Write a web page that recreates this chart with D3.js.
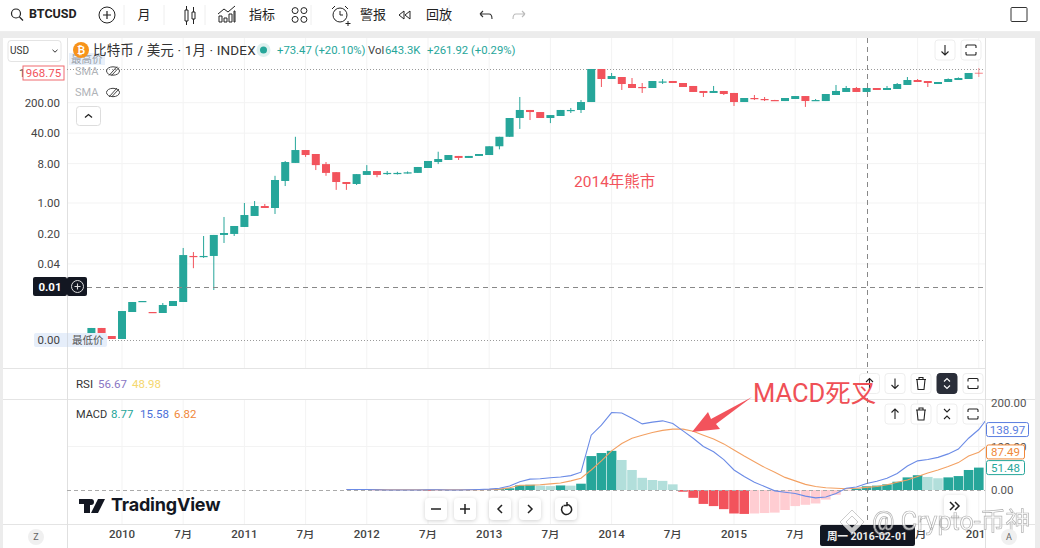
<!DOCTYPE html>
<html>
<head>
<meta charset="utf-8">
<script src="https://cdn.jsdelivr.net/npm/d3@7"></script>
<style>
  html, body { margin: 0; padding: 0; background: #fff; overflow: hidden; }
  text { font-family: Roboto, "Noto Sans CJK SC", sans-serif; }
  .domain { display: none; }
</style>
</head>
<body>
<div id="chart"></div>
<script>
const WIDTH = 1040;
const HEIGHT = 548;

const GREEN = "#26a69a";
const RED = "#f2535c";
const LIGHT_GREEN = "#b2dfdb";
const PINK = "#ffcdd2";
const BLUE = "#6b8be6";
const ORANGE = "#f3a163";

// monthly candles, 2009-10 to 2017-01
const opens = [
  .00104, .00136, .00089, .00076, .00316, .0055, .00316, .003, .00434, .00536,
  .061, .06, .061, .185, .195, .282, .504, .853, .768, 3.2,
  8.3, 16.4, 13.3, 7.8, 5.1, 3.03, 2.73, 4.4, 5.4, 4.8,
  4.8, 4.95, 4.9, 6.35, 8.7, 9.7, 12, 10.8, 12, 12.6,
  20, 33, 89, 136, 122, 89, 99, 132, 136, 207,
  1185, 698, 776, 536, 458, 434, 596, 628, 565, 483,
  371, 334, 371, 334, 207, 256, 243, 230, 218, 243,
  284, 224, 218, 300, 352, 434, 352, 434, 391, 412,
  509, 662, 628, 536, 596, 662, 698, 975];
const closes = [
  .00136, .00104, .00076, .00333, .00536, .00565, .003, .00458, .00565, .064,
  .058, .061, .185, .205, .297, .53, .853, .768, 3.37, 8.7,
  16.4, 12.6, 7.4, 4.9, 3.03, 2.73, 4.6, 5.4, 4.4, 4.9,
  4.9, 5.05, 6.7, 9.2, 10.2, 12.6, 10.8, 12, 13.3, 20,
  33, 89, 136, 122, 89, 104, 136, 136, 207, 1185,
  698, 818, 536, 434, 440, 628, 612, 565, 458, 352,
  334, 371, 316, 207, 256, 243, 232, 222, 256, 284,
  218, 230, 316, 371, 434, 352, 434, 391, 434, 536,
  662, 596, 565, 596, 698, 736, 959, 968.75];
const highs = [
  .00136, .00136, .00089, .00333, .00536, .00565, .00316, .00508, .00565, .093,
  .075, .175, .185, .478, .297, 1, 1.11, .95, 4.2, 9.2,
  33, 16.4, 13.3, 8.7, 5.1, 3.03, 4.6, 7.4, 5.4, 5.4,
  5.2, 5.3, 6.7, 9.2, 15, 12.6, 12, 12, 13.3, 20,
  33, 89, 270, 136, 122, 104, 136, 151, 230, 1185,
  1185, 959, 776, 736, 565, 628, 698, 628, 565, 483,
  371, 483, 371, 334, 256, 300, 270, 232, 256, 284,
  284, 243, 316, 509, 483, 458, 434, 434, 483, 565,
  776, 698, 628, 596, 720, 760, 959, 1250];
const lows = [
  .00104, .00104, .00076, .00076, .00316, .0055, .003, .003, .00434, .00536,
  .032, .055, .0101, .121, .175, .282, .504, .768, .56, 2.45,
  8.3, 11.4, 5.7, 4.2, 2, 2, 2.59, 4.4, 3.9, 4.4,
  4.5, 4.7, 4.9, 6.35, 7.8, 9.7, 9.7, 10.8, 12, 12.6,
  17, 33, 50, 80, 89, 68, 99, 116, 116, 207,
  458, 698, 391, 434, 334, 434, 536, 628, 458, 352,
  270, 334, 300, 168, 207, 230, 218, 222, 218, 243,
  160, 224, 218, 300, 352, 352, 352, 391, 391, 412,
  509, 596, 458, 536, 596, 662, 698, 776];

// MACD pane starts at candle 25 (2011-11); the lines run one month past the pane edge
const macdStart = 25;
const macdLine = [
  1, 1, 1, .5, 0, 0, 0, 0, .5, .5, 0, 0, .5, 1, 2, 4, 9,
  19, 25, 26, 28, 30, 33, 41, 126, 149, 178, 177, 165, 152, 156, 159, 153, 136, 119, 100, 88,
  70, 46, 31, 18, 8, -2, -5, -8, -14, -18, -16, -8, 4, 7, 15, 20, 27, 38, 55, 67, 70, 75, 83, 94, 119, 139, 170];
const signalLine = [
  1, 1, 1, 1, .5, .5, .5, .5, .5, .5, .5, .5, .5, .7, 1, 2, 5,
  11, 11, 12, 14, 16, 21, 27, 46, 67, 90, 107, 119, 126, 132, 137, 140, 140, 135, 126, 117,
  106, 92, 78, 65, 52, 41, 29, 21, 13, 8, 5, 4, 3, 4, 6, 8, 12, 18, 23, 31, 39, 46, 54, 63, 78, 87, 105];
const histogram = [
  0, 0, 0, -.5, -.5, -.5, -.5, -.5, -2, -1, -.5, -.5, 0, .5, 1, 2, 4,
  10.7, 12, 10, 9, 10.5, 10, 14.5, 78, 85, 90, 69, 46, 28, 23, 21, 13, -4, -18, -32, -37,
  -44, -54, -55, -54, -53, -52, -46, -37, -34, -31, -22, -11, -1.5, 3, 8.5, 10, 13, 19, 29, 34, 30, 27, 29, 32, 46, 51.48];

const priceTicks = [200, 40, 8, 1, .2, .04];
const macdTicks = [200, 100, 0];
const macdTags = [138.97, 87.49, 51.48];
const timeTickIdx = d3.range(3, 88, 6);
const timeTickLabels = ["2010", "7月", "2011", "7月", "2012", "7月", "2013", "7月", "2014", "7月", "2015", "7月", "2016", "7月", "2017"];

const svg = d3.select("#chart").append("svg")
    .attr("width", WIDTH)
    .attr("height", HEIGHT)
    .style("display", "block");

svg.append("clipPath").attr("id", "pane")
    .append("rect").attr("x", 0).attr("y", 0).attr("width", 985).attr("height", HEIGHT);

const x = d3.scaleBand().domain(d3.range(89)).range([86.3, 994.1]);
const xMid = i => x(i) + x.bandwidth() / 2;
const y = d3.scaleLog().domain([1000, .001]).range([72.2, 333.8]);
const yMacd = d3.scaleLinear().domain([0, 200]).range([490, 403]);

function label(s, px, py, size, color, anchor, weight) {
    return svg.append("text")
        .attr("x", px).attr("y", py)
        .attr("dy", "0.35em")
        .attr("font-size", size)
        .attr("fill", color)
        .attr("text-anchor", anchor || "start")
        .attr("font-weight", weight || 400)
        .text(s);
}

function hline(py, x1, x2, color, dash) {
    return svg.append("line").attr("x1", x1).attr("x2", x2).attr("y1", py).attr("y2", py)
        .attr("stroke", color).attr("stroke-dasharray", dash || null);
}

function vline(px, y1, y2, color, dash) {
    return svg.append("line").attr("x1", px).attr("x2", px).attr("y1", y1).attr("y2", y2)
        .attr("stroke", color).attr("stroke-dasharray", dash || null);
}

function icon(d, px, py, color, sw) {
    return svg.append("path").attr("d", d)
        .attr("transform", `translate(${px},${py})`)
        .attr("fill", "none")
        .attr("stroke", color || "#333")
        .attr("stroke-width", sw || 1.2);
}

/* FRAME */

svg.append("rect").attr("y", 32).attr("width", WIDTH).attr("height", 6).attr("fill", "#ececec");
svg.append("rect").attr("y", 32).attr("width", 3).attr("height", HEIGHT).attr("fill", "#ececec");
svg.append("rect").attr("x", 1035).attr("y", 32).attr("width", 5).attr("height", HEIGHT).attr("fill", "#ececec");

/* GRID */

timeTickIdx.forEach(i => {
    vline(xMid(i), 38, 368, "#f3f3f3");
    vline(xMid(i), 400, 524, "#f3f3f3");
});
priceTicks.forEach(p => hline(y(p), 67, 985, "#f3f3f3"));
hline(yMacd(100), 67, 985, "#f3f3f3");

hline(368.5, 3, 985, "#e4e4e4");
hline(399.5, 3, 1035, "#e4e4e4");
hline(524.5, 3, 1035, "#e4e4e4");
vline(67.5, 38, 548, "#e0e0e0");
vline(985.5, 38, 548, "#e0e0e0");

/* PRICE PANE */

hline(69.5, 67, 985, "#9a9a9a", "1,2");
hline(340.5, 67, 985, "#9a9a9a", "1,2");

svg.append("g").selectAll("line")
    .data(d3.range(88))
    .join("line")
    .attr("x1", xMid).attr("x2", xMid)
    .attr("y1", i => y(highs[i])).attr("y2", i => y(lows[i]))
    .attr("stroke", i => closes[i] >= opens[i] ? GREEN : RED)
    .attr("stroke-opacity", i => i === 87 ? 0.6 : 1);

svg.append("g").selectAll("rect")
    .data(d3.range(88))
    .join("rect")
    .attr("x", i => xMid(i) - 4)
    .attr("width", 8)
    .attr("y", i => Math.min(y(opens[i]), y(closes[i])))
    .attr("height", i => Math.max(1.2, Math.abs(y(opens[i]) - y(closes[i]))))
    .attr("fill", i => closes[i] >= opens[i] ? GREEN : RED)
    .attr("fill-opacity", i => i === 87 ? 0.6 : 1);

const priceAxis = d3.axisLeft(y)
    .tickValues(priceTicks)
    .tickSize(0)
    .tickPadding(0)
    .tickFormat(d3.format(".2f"));

svg.append("g")
    .attr("transform", "translate(60,0)")
    .call(priceAxis)
    .call(g => g.selectAll("text").attr("font-size", 11.5).attr("fill", "#444"));

/* MACD PANE */

svg.append("g").selectAll("rect")
    .data(histogram)
    .join("rect")
    .attr("x", (d, i) => x(i + macdStart) + 0.3)
    .attr("width", x.bandwidth() - 0.6)
    .attr("y", d => Math.min(yMacd(d), yMacd(0)))
    .attr("height", d => Math.abs(yMacd(d) - yMacd(0)))
    .attr("fill", (d, i) => {
        const rising = i === 0 || d >= histogram[i - 1];
        if (d >= 0) return rising ? GREEN : LIGHT_GREEN;
        return rising ? PINK : RED;
    });

hline(490.5, 67, 985, "#aaa", "4,3");

const macdPath = d3.line()
    .x((d, i) => xMid(i + macdStart))
    .y(d => yMacd(d));

svg.append("path").datum(signalLine).attr("d", macdPath).attr("clip-path", "url(#pane)")
    .attr("fill", "none").attr("stroke", ORANGE).attr("stroke-width", 1.1);
svg.append("path").datum(macdLine).attr("d", macdPath).attr("clip-path", "url(#pane)")
    .attr("fill", "none").attr("stroke", BLUE).attr("stroke-width", 1.1);

const macdAxis = d3.axisRight(yMacd)
    .tickValues(macdTicks)
    .tickSize(0)
    .tickPadding(0)
    .tickFormat(d3.format(".2f"));

svg.append("g")
    .attr("transform", "translate(991,0)")
    .call(macdAxis)
    .call(g => g.selectAll("text").attr("font-size", 11.5).attr("fill", "#555"));

function valueTag(v, width, color) {
    const py = yMacd(v);
    svg.append("rect").attr("x", 986.5).attr("y", py - 7).attr("width", width).attr("height", 14).attr("rx", 2)
        .attr("fill", "#fff").attr("stroke", color);
    label(d3.format(".2f")(v), 986.5 + width / 2, py, 11.5, color, "middle");
}
valueTag(macdTags[0], 42, "#5a7de0");
valueTag(macdTags[1], 38, "#f0883a");
valueTag(macdTags[2], 38, GREEN);

/* TIME AXIS */

const timeAxis = d3.axisBottom(x)
    .tickValues(timeTickIdx)
    .tickSize(0)
    .tickPadding(0)
    .tickFormat(i => timeTickLabels[timeTickIdx.indexOf(i)]);

svg.append("g")
    .attr("transform", "translate(0,530)")
    .attr("clip-path", "url(#pane)")
    .call(timeAxis)
    .call(g => g.selectAll("text").attr("font-size", 11.5).attr("fill", "#444").attr("font-weight", 500));

/* CROSSHAIR */

hline(287.5, 87, 985, "#888", "5,4");
vline(867.5, 38, 524, "#888", "5,4");

svg.append("rect").attr("x", 33).attr("y", 277).attr("width", 34).attr("height", 19).attr("rx", 2).attr("fill", "#131722");
label("0.01", 50, 286.5, 11.5, "#fff", "middle", 700);
svg.append("rect").attr("x", 67).attr("y", 277).attr("width", 20).attr("height", 19).attr("rx", 2).attr("fill", "#131722");
svg.append("circle").attr("cx", 77.5).attr("cy", 286.5).attr("r", 6).attr("fill", "none").attr("stroke", "#ddd");
icon("M-3,0H3M0,-3V3", 77.5, 286.5, "#ddd", 1.1);

svg.append("rect").attr("x", 820).attr("y", 525).attr("width", 95).attr("height", 21).attr("rx", 2).attr("fill", "#131722");
label("周一 2016-02-01", 867, 536, 10.5, "#eee", "middle", 700);

/* LEFT AXIS BITS */

svg.append("rect").attr("x", 8).attr("y", 40.5).attr("width", 53).attr("height", 21).attr("rx", 3).attr("fill", "#fff").attr("stroke", "#e4e4e4");
label("USD", 10, 50.5, 10, "#333");
icon("M-2.5,-1.2L0,1.2L2.5,-1.2", 55, 51, "#333", 1);

svg.append("rect").attr("x", 69).attr("y", 53).attr("width", 36).attr("height", 12).attr("fill", "#e8f0fa");
label("最高价", 71, 59, 10.5, "#9aa0a8");
label("1", 19, 73, 11.5, "#444");
svg.append("rect").attr("x", 23).attr("y", 66).attr("width", 41).attr("height", 14).attr("fill", "#fff").attr("stroke", "#ef6a6f");
label("968.75", 43.5, 73, 11.5, RED, "middle");

svg.append("rect").attr("x", 34).attr("y", 333).attr("width", 73).attr("height", 14).attr("rx", 2).attr("fill", "#e6eefa");
label("0.00", 60, 340, 11.5, "#444", "end");
vline(67.5, 333, 347, "#d5dbe3");
label("最低价", 72, 340, 10.5, "#555");

["SMA", "SMA"].forEach((s, i) => {
    const py = 71 + i * 21.5;
    label(s, 75, py, 11, "#b0b3b8");
    svg.append("ellipse").attr("cx", 113).attr("cy", py).attr("rx", 6.5).attr("ry", 4.2).attr("fill", "none").attr("stroke", "#444");
    icon("M-4,4.5L4,-4.5M-1.5,4.5L6,-3.5", 113, py, "#444", 1);
});
svg.append("rect").attr("x", 76.5).attr("y", 106.5).attr("width", 24).attr("height", 19).attr("rx", 3).attr("fill", "#fff").attr("stroke", "#ddd");
icon("M-3.5,1.5L0,-1.5L3.5,1.5", 88.5, 116, "#222", 1.3);

/* LEGENDS */

svg.append("circle").attr("cx", 81).attr("cy", 50).attr("r", 8).attr("fill", "#f7931a");
label("₿", 81, 50, 10, "#fff", "middle", 700);
label("比特币 / 美元 · 1月 · INDEX", 93, 50, 13.5, "#333").attr("letter-spacing", 0.15);
svg.append("circle").attr("cx", 263.5).attr("cy", 50).attr("r", 7).attr("fill", "#dff1ef");
svg.append("circle").attr("cx", 263.5).attr("cy", 50).attr("r", 3.5).attr("fill", GREEN);
label("+73.47 (+20.10%)", 277, 50, 11.3, GREEN);
label("Vol", 368, 50, 11.3, "#444");
label("643.3K", 385, 50, 11.3, GREEN);
label("+261.92 (+0.29%)", 427, 50, 11.3, GREEN);

label("RSI", 76, 384, 11.5, "#333");
label("56.67", 98, 384, 11.5, "#8a76c4");
label("48.98", 132, 384, 11.5, "#f5d76e");

label("MACD", 76, 414, 11, "#333");
label("8.77", 111, 414, 11.5, GREEN);
label("15.58", 140, 414, 11.5, "#4a6fd8");
label("6.82", 174, 414, 11.5, "#f0883a");

/* PANE BUTTONS */

function button(cx, cy, kind, dark) {
    svg.append("rect").attr("x", cx - 10).attr("y", cy - 10).attr("width", 20).attr("height", 20).attr("rx", 3)
        .attr("fill", dark ? "#2a2e39" : "#fff").attr("stroke", dark ? "#2a2e39" : "#eee");
    const c = dark ? "#fff" : "#222";
    const shapes = {
        up: "M0,5V-5M-3.5,-1.5L0,-5L3.5,-1.5",
        down: "M0,-5V5M-3.5,1.5L0,5L3.5,1.5",
        trash: "M-5,-4H5M-2,-4V-6H2V-4M-4,-4L-3,6H3L4,-4",
        max: "M-5,-2V-4Q-5,-5,-4,-5H4Q5,-5,5,-4V-2M-5,2V4Q-5,5,-4,5H4Q5,5,5,4V2",
        split: "M-3,-5L0,-2L3,-5M-3,5L0,2L3,5",
        join: "M-3,-2L0,-5L3,-2M-3,2L0,5L3,2"
    };
    icon(shapes[kind], cx, cy, c, 1.1);
}
button(945, 50, "down");
button(971, 50, "max");
button(869.5, 383.5, "up");
button(895, 383.5, "down");
button(921, 383.5, "trash");
button(947, 383.5, "join", true);
button(973, 383.5, "max");
button(895, 414, "up");
button(921, 414, "trash");
button(947, 414, "split");
button(973, 414, "max");

function softButton(cx, cy, d, sw) {
    svg.append("rect").attr("x", cx - 11).attr("y", cy - 11).attr("width", 22).attr("height", 22).attr("rx", 4)
        .attr("fill", "#fff").style("filter", "drop-shadow(0 1px 2px rgba(0,0,0,.18))");
    icon(d, cx, cy, "#222", sw || 1.5);
}
softButton(436, 509, "M-5,0H5");
softButton(465, 509, "M-5,0H5M0,-5V5");
softButton(500, 509, "M2,-4L-2,0L2,4");
softButton(530, 509, "M-2,-4L2,0L-2,4");
softButton(566, 509, "M-3,-3A5,5,0,1,0,1,-4.5M1,-7V-3.5H-2.5");
softButton(955, 506, "M-5,-4L-1,0L-5,4M0,-4L4,0L0,4");

/* WATERMARK LOGO */

svg.append("path")
    .attr("d", "M79,499H90V513H84V504H79ZM91,499A3,3,0,1,1,91,505A3,3,0,1,1,91,499ZM98,499H105L98,513H91Z")
    .attr("fill", "#131722");
label("TradingView", 111, 505, 18, "#131722", "start", 700).style("font-family", "Inter, Roboto, sans-serif").attr("letter-spacing", -0.2);

/* ANNOTATIONS */

label("2014年熊市", 574, 182, 15.5, RED);
label("MACD死叉", 753, 393, 25.5, "#ef5056");
svg.append("path")
    .attr("d", "M692,432L708,412L711,419L752,397L716,424L720,429Z")
    .attr("fill", "#f2535c");

/* BOTTOM WATERMARK */

const wm = svg.append("g").attr("opacity", 0.75);
wm.append("path").attr("d", "M852,510L864,522L852,534L840,522Z M852,516L858,522L852,528L846,522Z")
    .attr("fill", "#fff").attr("fill-rule", "evenodd").attr("stroke", "#bbb");
wm.append("text").attr("x", 872).attr("y", 530).attr("font-size", 25)
    .attr("fill", "#fff").attr("stroke", "#999").attr("stroke-width", 0.7)
    .text("@ Crypto-币神");

svg.append("circle").attr("cx", 36).attr("cy", 537).attr("r", 8).attr("fill", "#f0f0f0");
label("Z", 36, 537, 9, "#666", "middle");
svg.append("circle").attr("cx", 1009).attr("cy", 537).attr("r", 8).attr("fill", "#f0f0f0");
label("A", 1009, 537, 9, "#666", "middle");

/* TOOLBAR */

hline(31.5, 0, WIDTH, "#eee");
[124, 164, 205, 311, 449].forEach(px => vline(px, 5, 25, "#eee"));

svg.append("circle").attr("cx", 16).attr("cy", 13.5).attr("r", 4.5).attr("fill", "none").attr("stroke", "#222").attr("stroke-width", 1.2);
icon("M19.5,17L23,20.5", 0, 0, "#222", 1.2);
label("BTCUSD", 29, 14, 12.5, "#222", "start", 700);
svg.append("circle").attr("cx", 107).attr("cy", 15).attr("r", 8).attr("fill", "none").attr("stroke", "#222");
icon("M-4,0H4M0,-4V4", 107, 15, "#222");
label("月", 144, 14.5, 13, "#222", "middle");
icon("M-5,-5H-2V6H-5ZM-3.5,-9V-5M-3.5,6V10M2,-3H5V4H2ZM3.5,-8V-3M3.5,4V9", 190, 15, "#222", 1);
icon("M-8,8V2H-5V8ZM-3,8V4H0V8ZM2,8V0H5V8ZM7,8V-3H8V8ZM-9,0L-3,-5L1,-2L8,-8", 227, 14, "#222", 1);
label("指标", 249, 14.5, 13, "#222");
[[-4, -4], [4, -4], [-4, 4], [4, 4]].forEach(p => {
    svg.append("circle").attr("cx", 299.5 + p[0] * 1.1).attr("cy", 15 + p[1] * 1.1).attr("r", 3)
        .attr("fill", "none").attr("stroke", "#222");
});
svg.append("circle").attr("cx", 340).attr("cy", 15).attr("r", 7).attr("fill", "none").attr("stroke", "#222");
icon("M0,-4V0H3M-8,-6L-5,-9M8,-6L5,-9M8,6V11M5.5,8.5H10.5", 340, 15, "#222", 1);
label("警报", 360, 14.5, 13, "#222");
icon("M-1,-4L-6,0L-1,4ZM5,-4L0,0L5,4Z", 405, 15, "#222", 1);
label("回放", 426, 14.5, 13, "#222");
icon("M-6,-1H3Q6,-1,6,4M-6,-1L-3,-4M-6,-1L-3,2", 486, 15, "#333", 1.1);
icon("M6,-1H-3Q-6,-1,-6,4M6,-1L3,-4M6,-1L3,2", 519, 15, "#bbb", 1.1);
svg.append("rect").attr("x", 1011).attr("y", 7.5).attr("width", 16).attr("height", 14).attr("rx", 1).attr("fill", "none").attr("stroke", "#333");
</script>
</body>
</html>
